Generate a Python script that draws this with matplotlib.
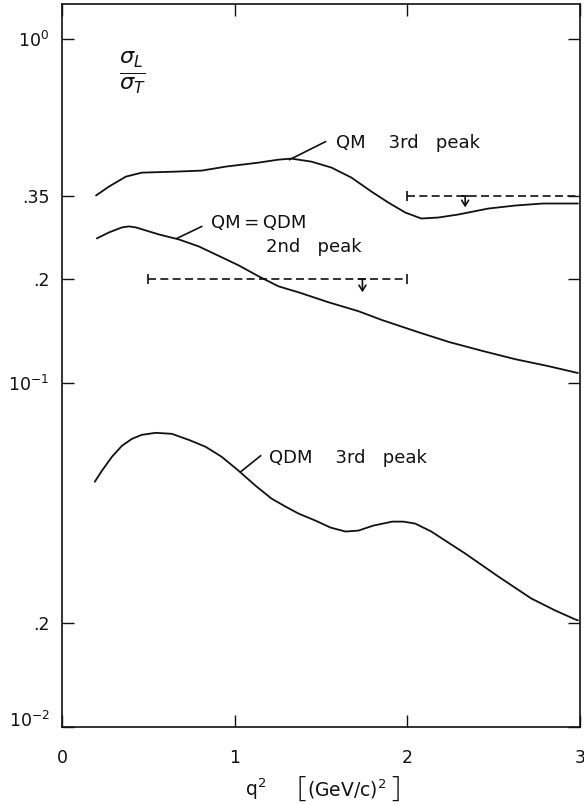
import matplotlib
matplotlib.use("Agg")
import matplotlib.pyplot as plt

# Figure size in pixels (dpi 100)
WIDTH, HEIGHT = 584, 805

# --- data ------------------------------------------------------------------
# QM 3rd peak
qm3_x = [0.197, 0.272, 0.370, 0.462, 0.659, 0.809, 0.948, 1.139, 1.254, 1.329,
         1.445, 1.561, 1.676, 1.792, 1.890, 1.988, 2.081, 2.179, 2.295, 2.468,
         2.624, 2.786, 2.913, 2.988]
qm3_y = [0.3508, 0.3724, 0.3981, 0.4088, 0.4116, 0.4144, 0.4256, 0.4372, 0.4460, 0.4490,
         0.4400, 0.4228, 0.3955, 0.3602, 0.3346, 0.3130, 0.3007, 0.3027, 0.3089, 0.3214,
         0.3280, 0.3325, 0.3325, 0.3325]

# QM = QDM 2nd peak
qm2_x = [0.202, 0.272, 0.347, 0.387, 0.428, 0.561, 0.676, 0.792, 0.890, 1.023, 1.139,
         1.254, 1.370, 1.543, 1.717, 1.855, 2.064, 2.243, 2.439, 2.624, 2.815, 2.988]
qm2_y = [0.2632, 0.2740, 0.2833, 0.2852, 0.2833, 0.2703, 0.2615, 0.2495, 0.2365, 0.2198, 0.2042,
         0.1910, 0.1835, 0.1717, 0.1617, 0.1523, 0.1405, 0.1315, 0.1238, 0.1173, 0.1120, 0.1069]

# QDM 3rd peak
qdm3_x = [0.190, 0.231, 0.289, 0.347, 0.405, 0.462, 0.543, 0.636, 0.734, 0.832,
          0.925, 1.023, 1.121, 1.214, 1.295, 1.370, 1.468, 1.555, 1.642, 1.717,
          1.803, 1.913, 1.977, 2.046, 2.139, 2.237, 2.335, 2.526, 2.717, 2.855,
          2.971, 2.988]
qdm3_y = [0.05164, 0.05557, 0.06101, 0.06568, 0.06881, 0.07069, 0.07164, 0.07116, 0.06835, 0.06524,
          0.06101, 0.05557, 0.05028, 0.04611, 0.04371, 0.04172, 0.03981, 0.03800, 0.03700, 0.03724,
          0.03850, 0.03954, 0.03954, 0.03902, 0.03700, 0.03437, 0.03194, 0.02740, 0.02365, 0.02183,
          0.02056, 0.02042]

# upper limits (dashed): x range, level, arrow position, arrow tip
limit_x = [(0.5, 2.0), (2.0, 3.0)]
limit_y = [0.2, 0.35]
limit_arrow_x = [1.74, 2.335]
limit_arrow_tip = [0.1835, 0.324]

# y ticks
ytick_vals = [0.01, 0.02, 0.1, 0.2, 0.35, 1.0]
ytick_labels = [r"$10^{-2}$", ".2", r"$10^{-1}$", ".2", ".35", r"$10^{0}$"]
xtick_vals = [0, 1, 2, 3]

INK = "#111111"


def style_axes(ax):
    ax.set_yscale("log")
    ax.set_xlim(0, 3)
    ax.set_ylim(0.01, 1.264)
    ax.set_xticks(xtick_vals)
    ax.set_xticklabels([str(v) for v in xtick_vals])
    ax.set_yticks(ytick_vals)
    ax.set_yticklabels(ytick_labels)
    ax.minorticks_off()
    ax.tick_params(axis="both", direction="in", length=8.5, width=1.0,
                   top=True, right=True, labelsize=12.5, colors=INK)
    ax.tick_params(axis="y", pad=9)
    ax.tick_params(axis="x", pad=16)
    # bottom label sits a little above the corner
    ax.get_yticklabels()[0].set_verticalalignment("baseline")
    for sp in ax.spines.values():
        sp.set_linewidth(1.2)
        sp.set_color(INK)


def draw_limits(ax):
    for (x0, x1), y, ax_x, tip in zip(limit_x, limit_y, limit_arrow_x, limit_arrow_tip):
        ax.plot([x0, x1], [y, y], color=INK, lw=1.2, linestyle=(0, (4.8, 2.6)))
        ax.plot([x0], [y], marker="|", ms=7, mew=1.2, color=INK)
        if x1 < 3:
            ax.plot([x1], [y], marker="|", ms=7, mew=1.2, color=INK)
        # upper-limit arrow: short bar on the line, stem pointing down
        ax.plot([ax_x], [y], marker="_", ms=6, mew=1.2, color=INK)
        ax.annotate("", xy=(ax_x, tip), xytext=(ax_x, y),
                    arrowprops=dict(arrowstyle="->,head_length=0.4,head_width=0.25",
                                    color=INK, lw=1.2, shrinkA=0, shrinkB=0))


def draw_labels(ax):
    kw = dict(fontsize=13, color=INK, va="center", ha="left")
    # QM 3rd peak
    ax.plot([1.526, 1.318], [0.503, 0.446], color=INK, lw=1.2)
    ax.text(1.584, 0.4995, "QM    3rd   peak", **kw)
    # QM = QDM 2nd peak
    ax.plot([0.809, 0.665], [0.2851, 0.2632], color=INK, lw=1.2)
    ax.text(0.861, 0.2928, "QM\u2009=\u2009QDM", **kw)
    ax.text(1.179, 0.2478, "2nd   peak", **kw)
    # QDM 3rd peak
    ax.plot([1.150, 1.035], [0.06142, 0.05521], color=INK, lw=1.2)
    ax.text(1.197, 0.06061, "QDM    3rd   peak", **kw)
    # ratio label
    ax.text(0.41, 0.80, r"$\frac{\sigma_L}{\sigma_T}$", fontsize=23, color=INK,
            ha="center", va="center")


def draw_xlabel(fig):
    def px(x, y):
        return x / WIDTH, 1 - y / HEIGHT

    br = dict(fontsize=21, color=INK, ha="center", va="center",
              family=["Open Sans", "DejaVu Sans"], fontweight="light")
    fig.text(*px(245, 789), r"$\mathregular{q^2}$", fontsize=13.5, color=INK,
             ha="left", va="center")
    fig.text(*px(301, 789), "[", **br)
    fig.text(*px(307, 789), r"$\mathregular{(GeV/c)^2}$", fontsize=13.5, color=INK,
             ha="left", va="center")
    fig.text(*px(396, 789), "]", **br)


def main():
    fig = plt.figure(figsize=(WIDTH / 100, HEIGHT / 100), dpi=100)
    ax = fig.add_axes([62 / WIDTH, 1 - 727 / HEIGHT, 518 / WIDTH, 723 / HEIGHT])
    style_axes(ax)

    for xs, ys in [(qm3_x, qm3_y), (qm2_x, qm2_y), (qdm3_x, qdm3_y)]:
        ax.plot(xs, ys, color=INK, lw=1.3, solid_capstyle="round",
                solid_joinstyle="round")

    draw_limits(ax)
    draw_labels(ax)
    draw_xlabel(fig)

    fig.savefig("out.png", dpi=100, facecolor="white")


if __name__ == "__main__":
    main()
